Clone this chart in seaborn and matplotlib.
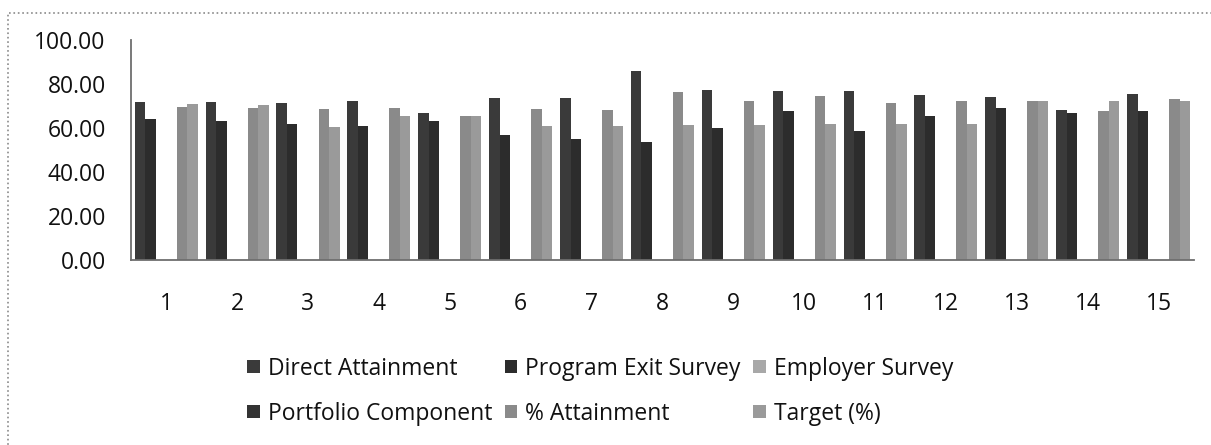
import pandas as pd
import matplotlib
matplotlib.use('Agg')
import matplotlib.pyplot as plt
import seaborn as sns
from matplotlib.patches import Rectangle

# values
outcomes = [str(i) for i in range(1, 16)]
direct_attainment = [72, 72, 71.5, 72.5, 67, 73.5, 73.5, 86, 77.5, 77, 77, 75, 74, 68, 75.5]
program_exit = [64, 63, 62, 61, 63, 57, 55, 53.5, 60, 67.5, 58.5, 65.5, 69, 67, 67.5]
employer_survey = [0] * 15
portfolio = [0] * 15
pct_attainment = [69.5, 69, 68.5, 69, 65.5, 68.5, 68, 76.5, 72.5, 74.5, 71.5, 72.5, 72.5, 67.5, 73]
target = [71, 70.5, 60.5, 65.5, 65.5, 61, 61, 61.5, 61.5, 62, 62, 62, 72.5, 72.5, 72.5]

series_names = ['Direct Attainment', 'Program Exit Survey', 'Employer Survey',
                'Portfolio Component', '% Attainment', 'Target (%)']
series_values = [direct_attainment, program_exit, employer_survey,
                 portfolio, pct_attainment, target]
colors = ['#3a3a3a', '#2c2c2c', '#a8a8a8', '#333333', '#8a8a8a', '#9a9a9a']

rows = []
for name, vals in zip(series_names, series_values):
    for o, v in zip(outcomes, vals):
        rows.append({'Outcome': o, 'Value': v, 'Series': name})
df = pd.DataFrame(rows)

sns.set_style('white')
plt.rcParams['font.family'] = ['Open Sans', 'DejaVu Sans']
plt.rcParams['font.weight'] = 500

fig = plt.figure(figsize=(12.11, 4.45), dpi=100)
ax = fig.add_axes([0.108, 0.416, 0.878, 0.494])

sns.barplot(data=df, x='Outcome', y='Value', hue='Series', order=outcomes,
            hue_order=series_names, palette=colors, width=0.89, gap=0,
            linewidth=0, ax=ax)

handles, labels = ax.get_legend_handles_labels()
ax.get_legend().remove()

ax.set_ylim(0, 100)
ax.set_xlim(-0.5, 14.5)
ax.set_yticks([0, 20, 40, 60, 80, 100])
ax.set_yticklabels([f'{t:.2f}' for t in [0, 20, 40, 60, 80, 100]])
ax.tick_params(axis='y', length=0, pad=18, labelsize=16.5, colors='#111111')
ax.tick_params(axis='x', length=0, pad=23, labelsize=16.5, colors='#111111')
ax.set_xlabel('')
ax.set_ylabel('')
sns.despine(ax=ax)
for s in ['left', 'bottom']:
    ax.spines[s].set_color('#6e6e6e')
    ax.spines[s].set_linewidth(1.3)

# legend filled row by row (Excel style), 3 columns
order = [0, 3, 1, 4, 2, 5]
fig.legend([handles[i] for i in order], [labels[i] for i in order], ncol=3,
           loc='center left', bbox_to_anchor=(0.204, 0.121), frameon=False,
           fontsize=16.5, handlelength=0.55, handleheight=0.55, handletextpad=0.35,
           borderaxespad=0, borderpad=0, columnspacing=0.55, labelspacing=0.92,
           labelcolor='#111111')

# chart frame from the scan
fig.patches.append(Rectangle((0.007, -0.03), 1.1, 1.001, transform=fig.transFigure,
                             fill=False, edgecolor='#8a8a8a', linewidth=1.2, linestyle=':'))

fig.savefig('out.png', dpi=100)
